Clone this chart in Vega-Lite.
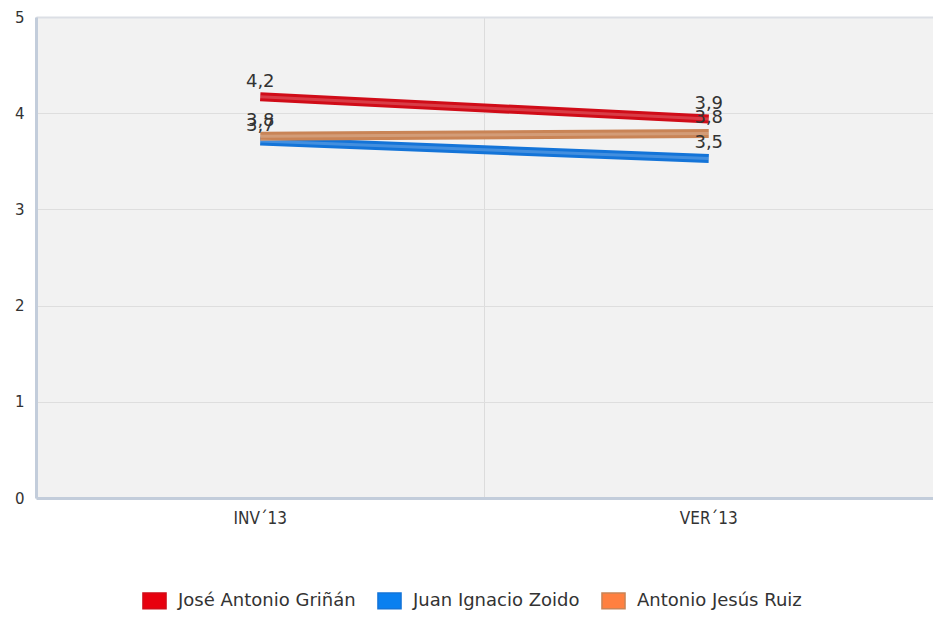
{
  "$schema": "https://vega.github.io/schema/vega-lite/v6.json",
  "width": 897,
  "height": 481,
  "autosize": "none",
  "padding": {"left": 36, "top": 17, "right": 0, "bottom": 123},
  "background": "white",
  "config": {
    "font": "DejaVu Sans",
    "view": {"fill": "#f2f2f2", "stroke": null}
  },
  "datasets": {
    "main": [
      {"series": "José Antonio Griñán", "period": "INV´13", "value": 4.17, "label": "4,2"},
      {"series": "José Antonio Griñán", "period": "VER´13", "value": 3.94, "label": "3,9"},
      {"series": "Juan Ignacio Zoido", "period": "INV´13", "value": 3.71, "label": "3,7"},
      {"series": "Juan Ignacio Zoido", "period": "VER´13", "value": 3.53, "label": "3,5"},
      {"series": "Antonio Jesús Ruiz", "period": "INV´13", "value": 3.76, "label": "3,8"},
      {"series": "Antonio Jesús Ruiz", "period": "VER´13", "value": 3.79, "label": "3,8"}
    ]
  },
  "data": {"name": "main"},
  "resolve": {"axis": {"x": "independent"}},
  "layer": [
    {
      "mark": {"type": "line", "strokeWidth": 9, "strokeCap": "butt"},
      "encoding": {
        "x": {
          "field": "period", "type": "nominal",
          "scale": {"type": "band", "domain": ["INV´13", "VER´13"], "paddingInner": 0, "paddingOuter": 0},
          "axis": {
            "orient": "top", "title": null, "labels": false, "ticks": false,
            "grid": true, "bandPosition": 0, "gridColor": "#dcdcdc", "gridWidth": 1,
            "domainColor": "#dcdfe5", "domainWidth": 2
          }
        },
        "y": {"field": "value", "type": "quantitative"},
        "stroke": {
          "field": "series", "type": "nominal",
          "scale": {"domain": ["José Antonio Griñán", "Juan Ignacio Zoido", "Antonio Jesús Ruiz"], "range": ["#d00c18", "#1474d8", "#c98456"]},
          "legend": {
            "title": null,
            "orient": "none",
            "legendX": 107,
            "legendY": 572,
            "direction": "horizontal",
            "symbolType": "M-1.1,-0.75L1.1,-0.75L1.1,0.75L-1.1,0.75Z",
            "symbolSize": 440,
            "symbolStrokeWidth": 1.5,
            "labelFontSize": 18,
            "labelColor": "#333333",
            "labelOffset": 12,
            "columnPadding": 18,
            "labelLimit": 300,
            "values": ["José Antonio Griñán", "Juan Ignacio Zoido", "Antonio Jesús Ruiz"],
            "encode": {
              "symbols": {
                "update": {
                  "fill": [
                    {"test": "datum.value === 'José Antonio Griñán'", "value": "#e8000e"},
                    {"test": "datum.value === 'Juan Ignacio Zoido'", "value": "#0a80f0"},
                    {"value": "#ff8040"}
                  ],
                  "fillOpacity": {"value": 1},
                  "stroke": {"value": "#222222"},
                  "opacity": {"value": 1}
                }
              }
            }
          }
        }
      }
    },
    {
      "mark": {"type": "line", "strokeWidth": 3, "stroke": "white", "strokeOpacity": 0.2, "strokeCap": "butt"},
      "encoding": {
        "x": {"field": "period", "type": "nominal", "axis": null},
        "y": {"field": "value", "type": "quantitative"},
        "detail": {"field": "series"}
      }
    },
    {
      "mark": {"type": "text", "fontSize": 18, "color": "#333333", "dy": -10, "baseline": "alphabetic", "align": "center"},
      "encoding": {
        "x": {
          "field": "period", "type": "nominal",
          "axis": {
            "orient": "bottom", "title": null, "labelAngle": 0, "ticks": false, "grid": false,
            "domainColor": "#c3cddb", "domainWidth": 3,
            "labelFont": "DejaVu Sans Condensed", "labelFontSize": 17, "labelColor": "#333333", "labelPadding": 12
          }
        },
        "y": {"field": "value", "type": "quantitative"},
        "text": {"field": "label"}
      }
    }
  ],
  "encoding": {
    "y": {
      "field": "value", "type": "quantitative",
      "scale": {"domain": [0, 5], "nice": false, "zero": true},
      "axis": {
        "title": null, "values": [0, 1, 2, 3, 4, 5], "ticks": false,
        "domainColor": "#c3cddb", "domainWidth": 3,
        "gridColor": "#dedede", "gridWidth": 1,
        "labelFontSize": 15, "labelColor": "#333333", "labelPadding": 12
      }
    }
  }
}
